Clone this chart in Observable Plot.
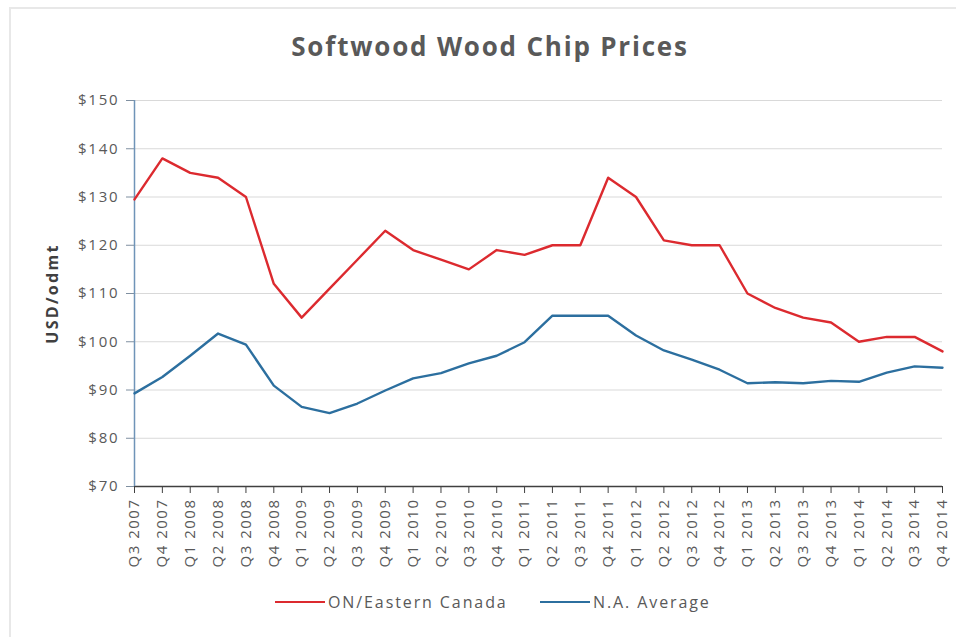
<!DOCTYPE html>
<html>
<head>
<meta charset="utf-8">
<script src="https://cdn.jsdelivr.net/npm/d3@7"></script>
<script src="https://cdn.jsdelivr.net/npm/@observablehq/plot@0.6"></script>
<style>
  html, body { margin: 0; padding: 0; background: #fff; }
  body { width: 956px; height: 637px; position: relative; overflow: hidden; font-family: "Open Sans", Lato, sans-serif; }
  #frame { position: absolute; left: 9px; top: 7px; width: 960px; height: 660px; border: 2px solid #e8e8e8; box-sizing: border-box; }
  #title { position: absolute; left: 0; top: 28px; width: 980px; text-align: center; font-size: 26px; font-weight: bold; color: #595959; letter-spacing: 1.8px; }
  #chart { position: absolute; left: 0; top: 72px; }
  #legend { position: absolute; top: 591px; left: 0; width: 956px; height: 24px; font-size: 16px; color: #595959; letter-spacing: 1.9px; }
  .lg { position: absolute; top: 0; display: flex; align-items: center; }
  .sw { width: 50px; height: 0; border-top: 2.5px solid; margin-right: 3px; }
  #chart svg [aria-label="y-axis label"] text { font-weight: bold; fill: #404040; font-size: 16px; letter-spacing: 2.3px; }
  #chart svg [aria-label="y-axis tick label"] text { letter-spacing: 1.8px; }
  #chart svg [aria-label="x-axis tick label"] text { letter-spacing: 1.5px; }
</style>
</head>
<body>
<div id="frame"></div>
<div id="title">Softwood Wood Chip Prices</div>
<div id="chart"></div>
<div id="legend"></div>
<script>
const quarters = ["Q3 2007","Q4 2007","Q1 2008","Q2 2008","Q3 2008","Q4 2008","Q1 2009","Q2 2009","Q3 2009","Q4 2009",
  "Q1 2010","Q2 2010","Q3 2010","Q4 2010","Q1 2011","Q2 2011","Q3 2011","Q4 2011","Q1 2012","Q2 2012",
  "Q3 2012","Q4 2012","Q1 2013","Q2 2013","Q3 2013","Q4 2013","Q1 2014","Q2 2014","Q3 2014","Q4 2014"];
const easternCanada = [129.5,138,135,134,130,112,105,111,117,123,
  119,117,115,119,118,120,120,134,130,121,
  120,120,110,107,105,104,100,101,101,98];
const naAverage = [89.3,92.7,97.1,101.7,99.4,90.9,86.5,85.2,87.2,89.9,
  92.4,93.5,95.5,97.1,99.9,105.4,105.4,105.4,101.3,98.2,
  96.3,94.2,91.4,91.6,91.4,91.9,91.7,93.6,94.9,94.6];
const seriesNames = ["ON/Eastern Canada", "N.A. Average"];
const seriesColors = ["#dc2a2f", "#2c6f9f"];
const yTicks = [70,80,90,100,110,120,130,140,150];

const idx = d3.range(quarters.length);
const rows = [
  ...idx.map(i => ({i, q: quarters[i], v: easternCanada[i], s: seriesNames[0]})),
  ...idx.map(i => ({i, q: quarters[i], v: naAverage[i], s: seriesNames[1]}))
];

const chart = Plot.plot({
  width: 956,
  height: 500,
  marginTop: 28,
  marginBottom: 86,
  marginLeft: 134,
  marginRight: 14,
  style: {fontFamily: "'Open Sans', Lato, sans-serif", fontSize: "15px", color: "#595959", background: "transparent"},
  x: {type: "linear", domain: [0, quarters.length - 1]},
  y: {domain: [70, 150]},
  color: {domain: seriesNames, range: seriesColors},
  marks: [
    Plot.gridY(yTicks, {stroke: "#d9d9d9", strokeOpacity: 1, strokeWidth: 1}),
    Plot.axisY(yTicks, {tickFormat: d => "$" + d, tickSize: 8, tickPadding: 7, fontSize: 15, stroke: "#7f8fa0",
      label: "USD/odmt", labelAnchor: "center", labelArrow: "none", labelOffset: 88}),
    Plot.axisX(idx, {tickFormat: i => quarters[i], tickRotate: -90, tickSize: 7, tickPadding: 5, fontSize: 15, label: null, stroke: "#404040"}),
    Plot.ruleY([70], {stroke: "#404040", strokeWidth: 1.5}),
    Plot.ruleX([0], {stroke: "#6f94b8", strokeWidth: 1.5}),
    Plot.line(rows, {x: "i", y: "v", z: "s", stroke: "s", strokeWidth: 2.4})
  ]
});
document.getElementById("chart").appendChild(chart);

const legend = document.getElementById("legend");
const legendX = [275, 540];
seriesNames.forEach((n, i) => {
  const d = document.createElement("div");
  d.className = "lg";
  d.style.left = legendX[i] + "px";
  d.innerHTML = `<span class="sw" style="border-color:${seriesColors[i]}"></span><span>${n}</span>`;
  legend.appendChild(d);
});
</script>
</body>
</html>
